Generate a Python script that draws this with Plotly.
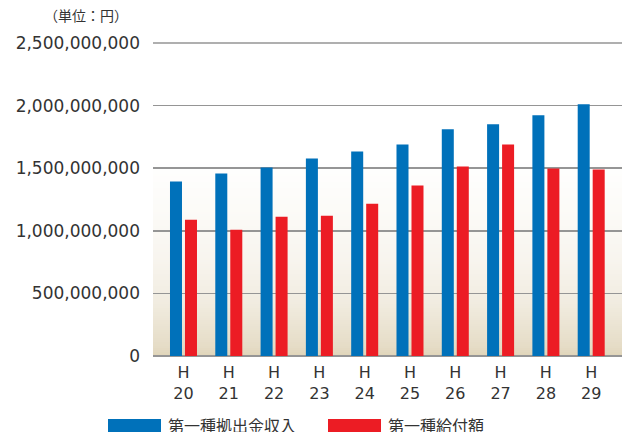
import plotly.graph_objects as go
import numpy as np

# ---- data ----
categories = ["20", "21", "22", "23", "24", "25", "26", "27", "28", "29"]
era_prefix = "H"
series_names = ["第一種拠出金収入", "第一種給付額"]
contributions = [1393e6, 1457e6, 1506e6, 1578e6, 1634e6, 1690e6, 1811e6, 1851e6, 1923e6, 2011e6]
payments = [1088e6, 1008e6, 1112e6, 1120e6, 1217e6, 1361e6, 1514e6, 1690e6, 1498e6, 1490e6]
y_ticks = [0, 500e6, 1000e6, 1500e6, 2000e6, 2500e6]
unit_label = "（単位：円）"

# ---- style ----
W, H = 629, 432
PW, PH = 469, 313
ML = 153
MT = 43
MR = W - ML - PW
MB = H - MT - PH
BLUE = "#0071ba"
RED = "#ec1c24"
GRID = "#959595"
TXT = "#333333"
FONT = "DejaVu Sans"
CJK = "Noto Sans CJK JP"

def px_x(p):
    return (p - ML) / PW

def px_y(p):
    return (H - MB - p) / PH

xpos = list(range(len(categories)))

fig = go.Figure()
fig.add_trace(go.Bar(x=xpos, y=contributions, name=series_names[0],
                     marker=dict(color=BLUE, line=dict(width=0)),
                     width=0.265, offset=-0.298, hoverinfo="skip"))
fig.add_trace(go.Bar(x=xpos, y=payments, name=series_names[1],
                     marker=dict(color=RED, line=dict(width=0)),
                     width=0.265, offset=0.033, hoverinfo="skip"))

# gradient background strips (distance from bottom in px -> colour)
stops_d = [0, 9, 53, 99, 149, 200]
stops_c = [(223, 212, 185), (229, 220, 198), (241, 236, 224),
           (248, 245, 239), (252, 251, 248), (255, 255, 255)]
shapes = []
step = 2
for d in range(0, 200, step):
    mid = d + step / 2
    c = [int(round(np.interp(mid, stops_d, [s[i] for s in stops_c]))) for i in range(3)]
    shapes.append(dict(type="rect", xref="x domain", yref="y domain",
                       x0=0, x1=1, y0=d / PH, y1=(d + step) / PH + 0.0005,
                       fillcolor=f"rgb({c[0]},{c[1]},{c[2]})",
                       line=dict(width=0), layer="below"))

# top gridline (plotly omits the gridline at the range edge)
shapes.append(dict(type="line", xref="x domain", yref="y domain",
                   x0=0, x1=1, y0=1, y1=1, line=dict(color=GRID, width=1.5),
                   layer="below"))

# legend swatches
shapes.append(dict(type="rect", xref="paper", yref="paper",
                   x0=px_x(108), x1=px_x(161), y0=px_y(434), y1=px_y(419),
                   fillcolor=BLUE, line=dict(width=0)))
shapes.append(dict(type="rect", xref="paper", yref="paper",
                   x0=px_x(328), x1=px_x(381), y0=px_y(434), y1=px_y(419),
                   fillcolor=RED, line=dict(width=0)))

annotations = [
    dict(text=unit_label, xref="paper", yref="paper", x=px_x(86), y=px_y(15),
         xanchor="center", yanchor="middle", showarrow=False,
         font=dict(family=CJK, size=14, color=TXT)),
    dict(text=series_names[0], xref="paper", yref="paper", x=px_x(166), y=px_y(425),
         xanchor="left", yanchor="middle", showarrow=False,
         font=dict(family=CJK, size=16, color=TXT)),
    dict(text=series_names[1], xref="paper", yref="paper", x=px_x(386), y=px_y(425),
         xanchor="left", yanchor="middle", showarrow=False,
         font=dict(family=CJK, size=16, color=TXT)),
]

fig.update_layout(
    width=W, height=H,
    margin=dict(l=ML, r=MR, t=MT, b=MB, pad=0),
    paper_bgcolor="white", plot_bgcolor="white",
    barmode="overlay", showlegend=False, hovermode=False,
    shapes=shapes, annotations=annotations,
    xaxis=dict(range=[-0.673, 9.68], tickvals=xpos,
               ticktext=[f"{era_prefix}<br>{c}" for c in categories],
               tickfont=dict(family=FONT, size=16, color=TXT),
               ticklabelstandoff=5,
               showgrid=False, zeroline=False, showline=False, ticks="",
               fixedrange=True),
    yaxis=dict(range=[0, 2.5e9], tickvals=y_ticks,
               ticktext=[f"{v:,.0f}" for v in y_ticks],
               showgrid=True, gridcolor=GRID, gridwidth=1.5,
               zeroline=True, zerolinecolor=GRID, zerolinewidth=2,
               showline=False, ticks="", ticklabelstandoff=12,
               tickfont=dict(family=FONT, size=17, color=TXT),
               fixedrange=True),
)

fig.write_html("out.html",
               config={"displayModeBar": False, "staticPlot": True},
               post_script="document.body.style.margin='0';document.body.style.overflow='hidden';")
